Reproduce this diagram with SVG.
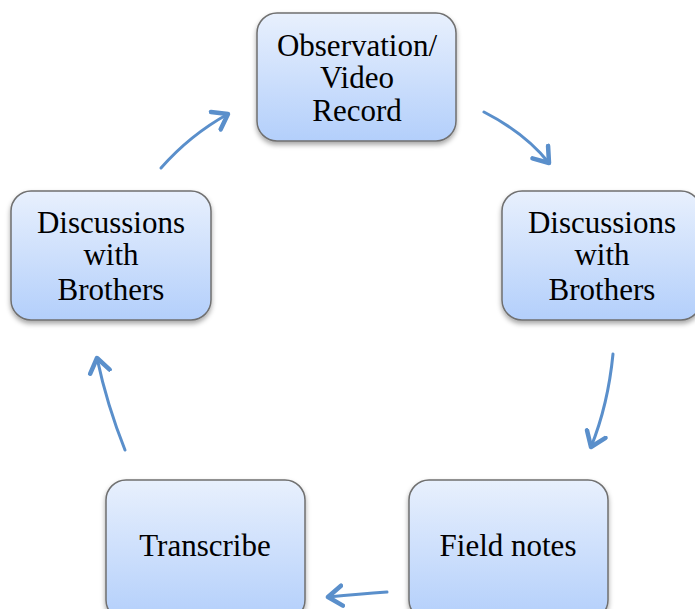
<svg xmlns="http://www.w3.org/2000/svg" width="695" height="609" viewBox="0 0 695 609">
<style>
.box{fill:url(#g);stroke:#6f6f6f;stroke-width:1.5;filter:url(#sh)}
.t{font-family:"Liberation Serif","Times New Roman",serif;font-size:31px;fill:#000;text-anchor:middle}
.c{fill:none;stroke:#5a8fcb;stroke-width:3;stroke-linecap:round}
</style>
<defs>
<linearGradient id="g" x1="0" y1="0" x2="0" y2="1">
<stop offset="0" stop-color="#e8f0fd"/>
<stop offset="1" stop-color="#b3cffb"/>
</linearGradient>
<filter id="sh" x="-10%" y="-10%" width="120%" height="130%">
<feDropShadow dx="0" dy="3" stdDeviation="2.5" flood-color="#000" flood-opacity="0.35"/>
</filter>
<marker id="a" markerUnits="userSpaceOnUse" markerWidth="30" markerHeight="30" refX="16" refY="15" orient="auto" viewBox="0 0 30 30">
<path d="M2 5 L16 15 L2 25" fill="none" stroke="#5a8fcb" stroke-width="4.5" stroke-linecap="round" stroke-linejoin="round"/>
</marker>
</defs>
<g id="connectors">
<path class="c" d="M484 112 Q525 133 549 163" marker-end="url(#a)"/>
<path class="c" d="M613 354 Q608 405 591 447" marker-end="url(#a)"/>
<path class="c" d="M387 592 Q360 594 328 597" marker-end="url(#a)"/>
<path class="c" d="M125 450 Q107 405 97 358" marker-end="url(#a)"/>
<path class="c" d="M161 168 Q190 135 228 114" marker-end="url(#a)"/>
</g>
<g id="observation">
<rect class="box" x="257" y="13" width="199" height="128" rx="20"/>
<text class="t" x="357" y="56">Observation/</text>
<text class="t" x="357" y="88">Video</text>
<text class="t" x="357" y="121">Record</text>
</g>
<g id="discussions-right">
<rect class="box" x="502" y="191" width="199" height="129" rx="20"/>
<text class="t" x="602" y="233">Discussions</text>
<text class="t" x="602" y="265">with</text>
<text class="t" x="602" y="300">Brothers</text>
</g>
<g id="field-notes">
<rect class="box" x="409" y="480" width="199" height="140" rx="20"/>
<text class="t" x="508" y="556">Field notes</text>
</g>
<g id="transcribe">
<rect class="box" x="106" y="480" width="199" height="140" rx="20"/>
<text class="t" x="205" y="556">Transcribe</text>
</g>
<g id="discussions-left">
<rect class="box" x="11" y="191" width="200" height="129" rx="20"/>
<text class="t" x="111" y="233">Discussions</text>
<text class="t" x="111" y="265">with</text>
<text class="t" x="111" y="300">Brothers</text>
</g>
</svg>
